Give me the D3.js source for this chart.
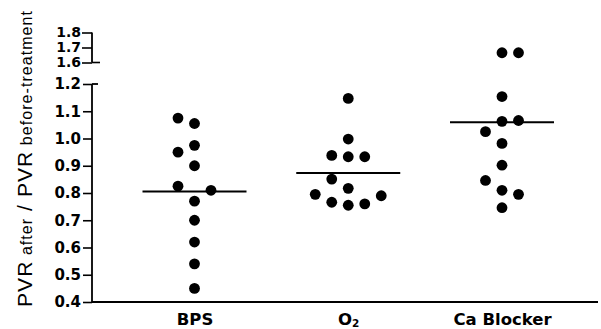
<!DOCTYPE html>
<html>
<head>
<meta charset="utf-8">
<script src="https://cdn.jsdelivr.net/npm/d3@7"></script>
<style>
  body { margin: 0; background: #ffffff; }
  svg { display: block; }
</style>
</head>
<body>
<div id="chart"></div>
<script>
// ---- data (order matters for the swarm placement) ----
var groups = ["BPS", "O2", "Ca Blocker"];
var bpsValues = [1.055, 1.075, 0.975, 0.95, 0.90, 0.77, 0.825, 0.81, 0.70, 0.62, 0.54, 0.45];
var o2Values = [1.147, 0.933, 0.998, 0.938, 0.933, 0.755, 0.817, 0.851, 0.766, 0.76, 0.795, 0.79];
var caValues = [1.665, 1.665, 1.154, 1.063, 0.982, 0.902, 0.81, 0.746, 1.066, 1.025, 0.795, 0.846];
var lowerTicks = [0.4, 0.5, 0.6, 0.7, 0.8, 0.9, 1.0, 1.1, 1.2];
var upperTicks = [1.6, 1.7, 1.8];

var seriesValues = [bpsValues, o2Values, caValues];

// ---- layout ----
var W = 601, H = 329;
var axisX = 92;
var xRight = 598;
var slotStep = 16.5;   // horizontal distance between swarm columns
var gap = 16;          // vertical distance under which two dots collide
var dotR = 5.4;
var meanHalf = 52;

var svg = d3.select("#chart").append("svg")
  .attr("width", W).attr("height", H);

// x: one point per group
var x = d3.scalePoint().domain(groups).range([194.5, 502]);

// broken y axis: lower and upper segments
var yLow = d3.scaleLinear().domain([0.4, 1.2]).range([302, 84]);
var yUp = d3.scaleLinear().domain([1.6, 1.8]).range([62.5, 32.5]);
function yOf(v) {
  return v >= 1.4 ? yUp(v) : yLow(v);
}

// lower axis
var axLow = svg.append("g").attr("transform", "translate(" + axisX + ",0)")
  .call(d3.axisLeft(yLow).tickValues(lowerTicks).tickSize(9).tickPadding(2)
    .tickFormat(d3.format(".1f")));
// upper axis
var axUp = svg.append("g").attr("transform", "translate(" + axisX + ",0)")
  .call(d3.axisLeft(yUp).tickValues(upperTicks).tickSize(10).tickPadding(1)
    .tickFormat(d3.format(".1f")));

[axLow, axUp].forEach(function(ax) {
  var s = ax === axLow ? yLow : yUp;
  ax.select(".domain").attr("stroke", "#000").attr("stroke-width", 1.8)
    .attr("d", "M0," + s.range()[0] + "V" + s.range()[1]);
  ax.selectAll(".tick line").attr("stroke", "#000").attr("stroke-width", 1.6);
  ax.selectAll(".tick text")
    .attr("fill", "#000")
    .style("font-family", "'DejaVu Sans', sans-serif")
    .style("font-weight", "bold")
    .style("font-size", ax === axLow ? "15px" : "14px");
});

// break markers: ticks crossing the axis at the segment ends
svg.append("line").attr("x1", axisX).attr("x2", axisX + 8)
  .attr("y1", yUp(1.6)).attr("y2", yUp(1.6))
  .attr("stroke", "#000").attr("stroke-width", 1.6);
svg.append("line").attr("x1", axisX).attr("x2", axisX + 6)
  .attr("y1", yLow(1.2)).attr("y2", yLow(1.2))
  .attr("stroke", "#000").attr("stroke-width", 1.8);

// x axis: baseline + group labels
svg.append("line").attr("x1", axisX).attr("x2", xRight)
  .attr("y1", yLow(0.4)).attr("y2", yLow(0.4))
  .attr("stroke", "#000").attr("stroke-width", 1.8);

var axB = svg.append("g").attr("transform", "translate(0," + yLow(0.4) + ")")
  .call(d3.axisBottom(x).tickSize(0).tickPadding(11));
axB.select(".domain").remove();
axB.selectAll(".tick text")
  .attr("fill", "#000")
  .style("font-family", "'DejaVu Sans', sans-serif")
  .style("font-weight", "bold")
  .style("font-size", "16.5px")
  .each(function(d) {
    if (d === "O2") {
      var t = d3.select(this).text("O");
      t.append("tspan").attr("dy", "0.2em").style("font-size", "10.5px").text("2");
    }
  });

// y title
var title = svg.append("text")
  .attr("transform", "translate(32,159) rotate(-90)")
  .attr("text-anchor", "middle")
  .attr("textLength", 296).attr("lengthAdjust", "spacing")
  .style("font-family", "'Liberation Sans', Arial, sans-serif")
  .attr("fill", "#000");
title.append("tspan").style("font-size", "21px").text("PVR");
title.append("tspan").style("font-size", "16px").text(" after");
title.append("tspan").style("font-size", "21px").text(" / PVR");
title.append("tspan").style("font-size", "16px").text(" before-treatment");

// simple swarm: each dot takes the first free column in preference order
var prefs = {
  left: [0, -1, 1, -2, 2, -3, 3],
  right: [0, 1, -1, 2, -2, 3, -3]
};
var groupPref = ["left", "left", "right"];

function swarm(values, pref) {
  var placed = [];
  values.forEach(function(v) {
    var y = yOf(v);
    for (var i = 0; i < pref.length; i++) {
      var s = pref[i];
      var hit = placed.some(function(p) {
        return p.slot === s && Math.abs(p.y - y) < gap;
      });
      if (!hit) {
        placed.push({ value: v, y: y, slot: s });
        break;
      }
    }
  });
  return placed;
}

groups.forEach(function(g, gi) {
  var vals = seriesValues[gi];
  var pts = swarm(vals, prefs[groupPref[gi]]);
  var cx = x(g);

  svg.append("g").selectAll("circle").data(pts).enter().append("circle")
    .attr("cx", function(d) { return cx + d.slot * slotStep; })
    .attr("cy", function(d) { return d.y; })
    .attr("r", dotR)
    .attr("fill", "#000");

  // mean line
  var m = d3.mean(vals);
  svg.append("line")
    .attr("x1", cx - meanHalf).attr("x2", cx + meanHalf)
    .attr("y1", yOf(m)).attr("y2", yOf(m))
    .attr("stroke", "#000").attr("stroke-width", 2);
});
</script>
</body>
</html>
